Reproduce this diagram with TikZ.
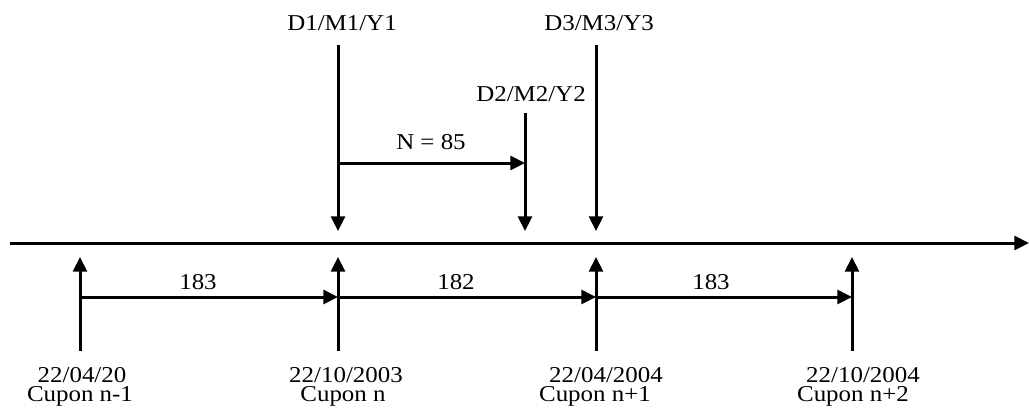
\documentclass[tikz,border=0pt]{standalone}
\usepackage{fontspec}
\setmainfont{Liberation Serif}[FakeStretch=1.1]
\usetikzlibrary{arrows.meta}
\begin{document}
\begin{tikzpicture}[x=0.75pt,y=-0.75pt,
  every node/.style={font=\fontsize{17}{20}\selectfont, inner sep=0pt},
  line/.style={line width=2.25pt, -{Triangle[length=11pt,width=10.5pt]}},
  lbl/.style={anchor=base}]
\useasboundingbox (0,0) rectangle (1029,412);
% axis
\coordinate (a0) at (10,243);
\coordinate (a1) at (1029,243);
\draw[line] (a0) -- (a1);
% coupon ticks
\foreach \n/\x in {c1/80,c2/338,c3/596,c4/852}{
  \coordinate (\n b) at (\x,351);
  \coordinate (\n t) at (\x,257);
  \coordinate (\n m) at (\x,297);
  \draw[line] (\n b) -- (\n t);
}
\draw[line] (c1m) -- (c2m);
\draw[line] (c2m) -- (c3m);
\draw[line] (c3m) -- (c4m);
\node[lbl] (l183a) at (198,289) {183};
\node[lbl] (l182) at (456,289) {182};
\node[lbl] (l183b) at (711,289) {183};
% dates
\node[lbl] (d1) at (82,382) {22/04/20};
\node[lbl] (d2) at (346,382) {22/10/2003};
\node[lbl] (d3) at (606,382) {22/04/2004};
\node[lbl] (d4) at (863,382) {22/10/2004};
\node[lbl] (k1) at (80,401) {Cupon n-1};
\node[lbl] (k2) at (343,401) {Cupon n};
\node[lbl] (k3) at (595,401) {Cupon n+1};
\node[lbl] (k4) at (853,401) {Cupon n+2};
% top markers
\coordinate (m1t) at (338,45);
\coordinate (m1b) at (338,231);
\coordinate (m2t) at (525,113);
\coordinate (m2b) at (525,231);
\coordinate (m3t) at (596,45);
\coordinate (m3b) at (596,231);
\draw[line] (m1t) -- (m1b);
\draw[line] (m2t) -- (m2b);
\draw[line] (m3t) -- (m3b);
\node[lbl] (t1) at (342,30) {D1/M1/Y1};
\node[lbl] (t3) at (599,30) {D3/M3/Y3};
\node[lbl] (t2) at (531,101) {D2/M2/Y2};
\coordinate (n0) at (340,163);
\coordinate (n1) at (525,163);
\draw[line] (n0) -- (n1);
\node[lbl] (nl) at (431,149) {N = 85};
\end{tikzpicture}
\end{document}
